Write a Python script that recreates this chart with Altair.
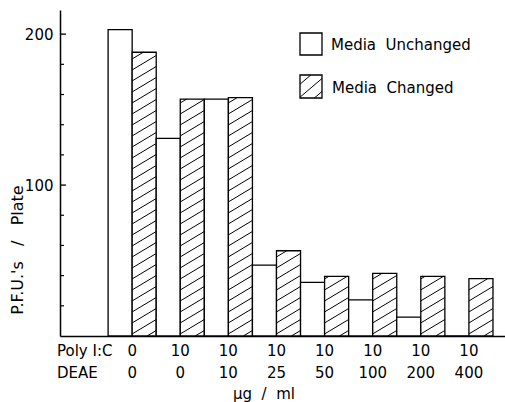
import altair as alt
import pandas as pd

# Treatment groups (bottom two label rows)
poly_ic = ["0", "10", "10", "10", "10", "10", "10", "10"]
deae = ["0", "0", "10", "25", "50", "100", "200", "400"]

# P.F.U.'s per plate
media_unchanged = [203, 131, 157, 47, 35.5, 24, 12.5, 0]
media_changed = [188, 157, 158, 56.5, 39.5, 41.5, 39.5, 38]

y_labels = [100, 200]
y_minor = [20, 40, 60, 80, 120, 140, 160, 180]

# Plot geometry
PLOT_W, PLOT_H = 445, 326
X_MAX, Y_MAX = 9.25, 216
KX = PLOT_W / X_MAX
KY = PLOT_H / Y_MAX
FONT = "DejaVu Sans"
NB = "\u00a0"  # non-breaking space keeps wide word gaps in SVG text


def hatch_segments(w, h, slope=0.6, gap=11.0):
    """Diagonal '/' lines clipped to a w x h box (local px, y up)."""
    segs = []
    c = -slope * w + gap * 0.5
    while c < h:
        xa = max(0.0, -c / slope)
        xb = min(w, (h - c) / slope)
        if xb - xa > 0.8:
            segs.append((xa, slope * xa + c, xb, slope * xb + c))
        c += gap
    return segs


# Bars: group i occupies [i, i+1]; left half unchanged, right half changed
bar_rows, hatch_rows = [], []
for i, (u, ch) in enumerate(zip(media_unchanged, media_changed), start=1):
    bar_rows.append({"x0": i, "x1": i + 0.5, "top": u, "series": "Media Unchanged"})
    bar_rows.append({"x0": i + 0.5, "x1": i + 1, "top": ch, "series": "Media Changed"})
    for xa, ya, xb, yb in hatch_segments(0.5 * KX, ch * KY):
        hatch_rows.append({"x": i + 0.5 + xa / KX, "y": ya / KY,
                           "x2": i + 0.5 + xb / KX, "y2": yb / KY})
bars = pd.DataFrame(bar_rows)


# Legend swatches (layout in px inside the plot area, converted to data units)
def px_x(px):
    return px / KX


def px_y(py):
    return (PLOT_H - py) / KY


legend_boxes = pd.DataFrame([
    {"x0": px_x(240), "x1": px_x(262), "y0": px_y(45), "y1": px_y(23)},
    {"x0": px_x(240), "x1": px_x(262), "y0": px_y(88), "y1": px_y(65)},
])
for xa, ya, xb, yb in hatch_segments(22, 23, slope=0.85, gap=13.0):
    hatch_rows.append({"x": px_x(240 + xa), "y": px_y(88 - ya),
                       "x2": px_x(240 + xb), "y2": px_y(88 - yb)})
hatch = pd.DataFrame(hatch_rows)

x_scale = alt.Scale(domain=[0, X_MAX], nice=False, zero=False)
y_scale = alt.Scale(domain=[0, Y_MAX], nice=False, zero=False)

bar_layer = alt.Chart(bars).mark_rect(
    fill="white", stroke="black", strokeWidth=1.3
).encode(
    x=alt.X("x0:Q", scale=x_scale, axis=alt.Axis(
        labels=False, ticks=False, grid=False, title=None,
        domainColor="black", domainWidth=1.5)),
    x2="x1:Q",
    y=alt.Y("top:Q", scale=y_scale, axis=alt.Axis(
        values=y_labels, ticks=False, grid=False, title=None,
        labelFont=FONT, labelFontSize=15, labelColor="black",
        labelPadding=7, domainColor="black", domainWidth=1.5)),
    y2=alt.datum(0),
)

legend_box_layer = alt.Chart(legend_boxes).mark_rect(
    fill="white", stroke="black", strokeWidth=1.3
).encode(x="x0:Q", x2="x1:Q", y="y0:Q", y2="y1:Q")

hatch_layer = alt.Chart(hatch).mark_rule(color="black", strokeWidth=1.0).encode(
    x="x:Q", y="y:Q", x2="x2:Q", y2="y2:Q"
)

# Inward ticks on the y axis
major_ticks = alt.Chart(pd.DataFrame({"v": y_labels})).mark_rule(
    color="black", strokeWidth=1.3
).encode(y="v:Q", x=alt.value(0), x2=alt.value(6))
minor_ticks = alt.Chart(pd.DataFrame({"v": y_minor})).mark_rule(
    color="black", strokeWidth=1.2
).encode(y="v:Q", x=alt.value(0), x2=alt.value(4))

groups = pd.DataFrame({
    "xc": [i + 0.5 for i in range(1, len(deae) + 1)],
    "poly": poly_ic,
    "deae": deae,
})
poly_text = alt.Chart(groups).mark_text(
    font=FONT, fontSize=15, color="black", baseline="middle"
).encode(x="xc:Q", y=alt.value(341), text="poly:N")
deae_text = alt.Chart(groups).mark_text(
    font=FONT, fontSize=15, color="black", baseline="middle"
).encode(x="xc:Q", y=alt.value(363), text="deae:N")


def label(txt, x, y, align="left", angle=0, size=15):
    return alt.Chart(alt.Data(values=[{}])).mark_text(
        text=txt, font=FONT, fontSize=size, color="black",
        align=align, baseline="middle", angle=angle,
    ).encode(x=alt.value(x), y=alt.value(y))


texts = [
    label("Poly I:C", -3, 341),
    label("DEAE", -3, 363),
    label(f"µg{NB} /{NB} ml", 204, 384, align="center"),
    label(f"P.F.U.'s{NB}{NB} /{NB}{NB} Plate", -42, 240, align="center", angle=270, size=16),
    label(f"Media{NB} Unchanged", 271, 35),
    label(f"Media{NB} Changed", 272, 78),
]

chart = alt.layer(
    bar_layer, legend_box_layer, hatch_layer, major_ticks, minor_ticks,
    poly_text, deae_text, *texts,
).properties(
    width=PLOT_W, height=PLOT_H,
    padding={"left": 60, "top": 10, "right": 0, "bottom": 66},
    autosize=alt.AutoSizeParams(type="none"),
    background="white",
).configure_view(stroke=None)

chart.save("out.html", embed_options={"renderer": "svg", "actions": False})
